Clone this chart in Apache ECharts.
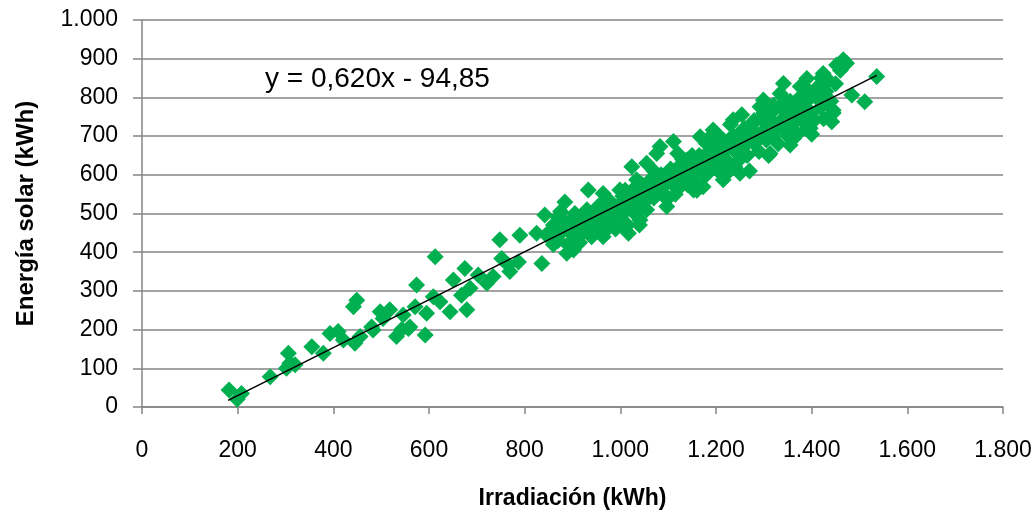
<!DOCTYPE html>
<html>
<head>
<meta charset="utf-8">
<script src="https://cdn.jsdelivr.net/npm/echarts@6/dist/echarts.min.js"></script>
<style>
  html, body { margin: 0; padding: 0; background: #fff; }
  #chart { width: 1036px; height: 516px; }
</style>
</head>
<body>
<div id="chart"></div>
<script type="text/javascript">
// irradiacion (kWh) / energia solar (kWh)
var irradiacion = [
  182, 208, 199, 268, 306, 309, 302, 320, 355, 379, 393, 410, 421, 442, 449, 445, 456, 480, 498, 504,
  518, 532, 546, 557, 571, 574, 592, 595, 613, 609, 623, 644, 651, 668, 675, 679, 686, 703, 721, 734,
  748, 752, 766, 769, 787, 790, 825, 836, 842, 543, 483, 560,
  855, 870, 860, 875, 845, 884, 881, 888,
  933, 1097, 1076, 1111, 1083, 1024, 1017, 1173, 1194, 1254, 1299, 1341, 1390, 1424, 1466, 1473, 1452, 1536, 1484, 1511,
  1445, 1442, 1397, 1362, 1313, 1250, 1215, 1153, 1125, 1055, 1041, 1006, 964, 902, 916, 999, 964, 1034, 1055, 1139,
  1167, 1201, 1236, 1292, 1334, 1376, 1417,
  860, 870, 875, 880, 890, 895, 900, 905, 910, 915, 920, 925, 930, 935, 940, 945, 950, 955, 960, 965,
  970, 975, 980, 985, 990, 995, 1000, 1005, 1010, 1015, 1020, 1025, 1030, 1035, 1040, 1045, 1050, 1055, 1060, 1065,
  1070, 1075, 1080, 1085, 1090, 1095, 1100, 1105, 1110, 1115, 1120, 1125, 1130, 1135, 1140, 1145, 1150, 1155, 1160, 1165,
  1170, 1175, 1180, 1185, 1190, 1195, 1200, 1205, 1210, 1215, 1220, 1225, 1230, 1235, 1240, 1245, 1250, 1255, 1260, 1265,
  1270, 1275, 1280, 1285, 1290, 1295, 1300, 1305, 1310, 1315, 1320, 1325, 1330, 1335, 1340, 1345, 1350, 1355, 1360, 1365,
  1370, 1375, 1380, 1385, 1390, 1395, 1400, 1405, 1410, 1415, 1420, 1425, 1430, 1435, 1440, 1445, 1450, 1460,
  1010, 1040, 1070, 1100, 1130, 1160, 1190, 1220, 1250, 1280, 1310, 1340, 1360, 1390, 1420, 1230, 1270, 1200, 1150, 1180,
  1120, 1260, 1300, 1320, 1350, 1380, 1240, 1290, 1330, 1210, 1400, 1355
];
var energia = [
  44, 35, 20, 78, 139, 113, 100, 109, 156, 139, 190, 195, 173, 259, 276, 165, 182, 207, 246, 229,
  251, 182, 238, 203, 259, 315, 186, 242, 388, 285, 272, 246, 328, 289, 358, 251, 307, 341, 320, 337,
  432, 384, 367, 350, 375, 444, 449, 371, 496, 200, 199, 207,
  455, 490, 420, 470, 445, 530, 483, 397,
  561, 518, 655, 686, 673, 621, 449, 569, 716, 755, 793, 836, 849, 862, 897, 888, 884, 854, 806, 789,
  767, 737, 720, 694, 655, 604, 587, 561, 569, 535, 483, 466, 440, 406, 449, 561, 552, 587, 630, 638,
  698, 707, 742, 776, 810, 828, 802,
  470, 430, 505, 455, 420, 480, 445, 500, 470, 425, 490, 455, 510, 470, 440, 495, 460, 520, 485, 450,
  505, 475, 530, 495, 460, 520, 490, 545, 505, 470, 530, 560, 500, 540, 515, 575, 550, 510, 565, 590,
  540, 575, 555, 600, 570, 540, 590, 615, 575, 550, 600, 625, 590, 610, 575, 640, 605, 585, 625, 650,
  610, 635, 600, 660, 630, 675, 645, 610, 665, 690, 640, 670, 625, 700, 660, 685, 640, 715, 675, 650,
  700, 730, 680, 705, 660, 745, 715, 690, 740, 760, 700, 730, 680, 775, 745, 715, 760, 790, 730, 755,
  705, 800, 770, 735, 790, 815, 760, 740, 800, 830, 775, 745, 815, 845, 790, 760, 835, 870,
  560, 470, 610, 540, 640, 560, 700, 600, 690, 740, 650, 800, 780, 720, 850, 730, 610, 690, 650, 680,
  655, 720, 760, 780, 700, 740, 620, 700, 720, 630, 705, 677
];
// linea de tendencia y = 0,620x - 94,85 (extremos leidos)
var trendX = [180, 1536];
var trendY = [17, 857];
var ecuacion = 'y = 0,620x - 94,85';

var puntos = [];
for (var i = 0; i < irradiacion.length; i++) {
  puntos.push([irradiacion[i], energia[i]]);
}
var tendencia = [];
for (var j = 0; j < trendX.length; j++) {
  tendencia.push([trendX[j], trendY[j]]);
}

function miles(v) {
  return String(v).replace(/\B(?=(\d{3})+(?!\d))/g, '.');
}

var gris = '#858585';
var fuente = 'Liberation Sans';

var chart = echarts.init(document.getElementById('chart'));
chart.setOption({
  animation: false,
  backgroundColor: '#fff',
  grid: { left: 142, right: 33, top: 20, bottom: 109, containLabel: false },
  xAxis: {
    type: 'value',
    min: 0, max: 1800, interval: 200,
    name: 'Irradiación (kWh)',
    nameLocation: 'middle',
    nameGap: 80,
    nameTextStyle: { fontFamily: fuente, fontSize: 23, fontWeight: 'bold', color: '#000' },
    axisLine: { show: true, onZero: false, lineStyle: { color: gris, width: 1.5 } },
    axisTick: { show: true, length: 7, lineStyle: { color: gris, width: 1.5 } },
    axisLabel: { margin: 32, fontFamily: fuente, fontSize: 23, color: '#000', formatter: miles },
    splitLine: { show: false }
  },
  yAxis: {
    type: 'value',
    min: 0, max: 1000, interval: 100,
    name: 'Energía solar (kWh)',
    nameLocation: 'middle',
    nameGap: 104,
    nameTextStyle: { fontFamily: fuente, fontSize: 24, fontWeight: 'bold', color: '#000' },
    axisLine: { show: true, lineStyle: { color: gris, width: 1.5 } },
    axisTick: { show: true, inside: false, length: 9, lineStyle: { color: gris, width: 1.5 } },
    axisLabel: { margin: 24, fontFamily: fuente, fontSize: 23, color: '#000', formatter: miles },
    splitLine: { show: true, lineStyle: { color: gris, width: 1.5 } }
  },
  graphic: [{
    type: 'text',
    left: 265,
    top: 65,
    style: { text: ecuacion, font: '28px "Liberation Sans"', fill: '#000' }
  }],
  series: [
    {
      type: 'scatter',
      data: puntos,
      symbol: 'diamond',
      symbolSize: 17,
      itemStyle: { color: '#00B050', opacity: 1 },
      z: 2
    },
    {
      type: 'line',
      data: tendencia,
      showSymbol: false,
      symbol: 'none',
      lineStyle: { color: '#000', width: 1.5 },
      z: 3
    }
  ]
});
</script>
</body>
</html>
